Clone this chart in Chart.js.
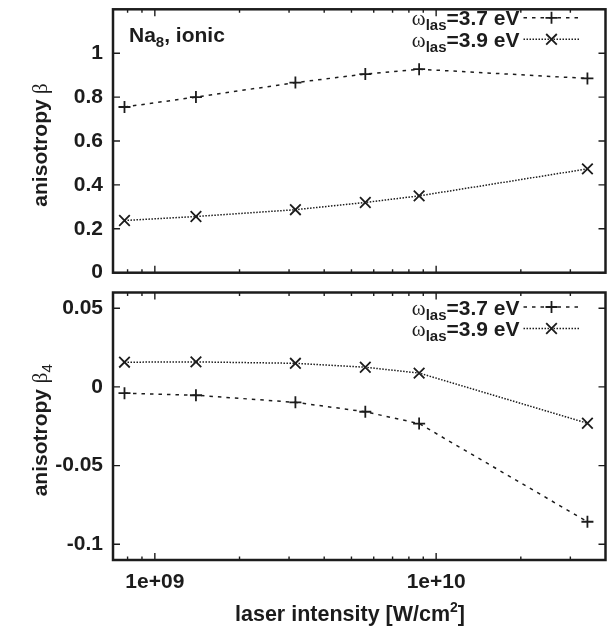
<!DOCTYPE html>
<html>
<head>
<meta charset="utf-8">
<script src="https://cdn.jsdelivr.net/npm/chart.js@4.4.1/dist/chart.umd.min.js"></script>
<style>
  html, body { margin: 0; padding: 0; background: #fff; }
  #wrap { position: relative; width: 616px; height: 634px; }
  canvas { position: absolute; left: 0; }
  #topChart { top: 0; }
  #bottomChart { top: 283px; }
</style>
</head>
<body>
<div id="wrap">
  <canvas id="topChart" width="616" height="283"></canvas>
  <canvas id="bottomChart" width="616" height="351"></canvas>
</div>
<script>
// laser intensities in W/cm^2
const intensities = [7.8e8, 1.4e9, 3.16e9, 5.6e9, 8.7e9, 3.45e10];

// anisotropy beta (top panel)
const beta37 = [0.755, 0.800, 0.866, 0.905, 0.927, 0.885];
const beta39 = [0.238, 0.256, 0.287, 0.320, 0.350, 0.473];

// anisotropy beta4 (bottom panel)
const beta4_37 = [-0.0040, -0.0053, -0.0098, -0.0158, -0.0233, -0.0857];
const beta4_39 = [0.0157, 0.0159, 0.0150, 0.0125, 0.0088, -0.0231];

const energies = ['3.7', '3.9'];
const betaTicks = [0, 0.2, 0.4, 0.6, 0.8, 1];
const beta4Ticks = [-0.1, -0.05, 0, 0.05];
const intensityTicks = [1e9, 1e10];

const ink = '#1c1c1c';
const SANS = '"Liberation Sans", Arial, Helvetica, sans-serif';
const BOLD = 'bold 21px ' + SANS;
const SUB = 'bold 15px ' + SANS;
const SYM = '21px "Liberation Serif", "DejaVu Serif", serif';

function drawRich(ctx, parts, x, y, align) {
    let w = 0;
    parts.forEach(p => { ctx.font = p.font; w += ctx.measureText(p.text).width; });
    let cx = align === 'right' ? x - w : (align === 'center' ? x - w / 2 : x);
    parts.forEach(p => {
        ctx.font = p.font;
        ctx.fillText(p.text, cx, y + (p.dy || 0));
        cx += ctx.measureText(p.text).width;
    });
}

function legendParts(energy) {
    return [
        { text: 'ω', font: SYM },
        { text: 'las', font: SUB, dy: 5 },
        { text: '=' + energy + ' eV', font: BOLD }
    ];
}

function drawMarker(ctx, style, r, x, y) {
    ctx.beginPath();
    if (style === 'cross') {
        ctx.moveTo(x - r, y); ctx.lineTo(x + r, y);
        ctx.moveTo(x, y - r); ctx.lineTo(x, y + r);
    } else {
        const d = r * Math.SQRT1_2;
        ctx.moveTo(x - d, y - d); ctx.lineTo(x + d, y + d);
        ctx.moveTo(x - d, y + d); ctx.lineTo(x + d, y - d);
    }
    ctx.stroke();
}

// frame, inward ticks, legend and labels drawn the gnuplot way
const panelDecor = {
    id: 'panelDecor',
    afterDraw(chart, args, opts) {
        const ctx = chart.ctx;
        const a = chart.chartArea;
        const xs = chart.scales.x;
        const ys = chart.scales.y;
        ctx.save();
        ctx.strokeStyle = ink;
        ctx.fillStyle = ink;

        ctx.lineWidth = 1.4;
        ctx.beginPath();
        const d0 = Math.floor(Math.log10(xs.min));
        const d1 = Math.ceil(Math.log10(xs.max));
        for (let d = d0; d <= d1; d++) {
            for (let m = 1; m < 10; m++) {
                const v = m * Math.pow(10, d);
                if (v <= xs.min || v >= xs.max) continue;
                const px = xs.getPixelForValue(v);
                const len = m === 1 ? 7 : 3.5;
                ctx.moveTo(px, a.bottom); ctx.lineTo(px, a.bottom - len);
                ctx.moveTo(px, a.top); ctx.lineTo(px, a.top + len);
            }
        }
        ys.ticks.forEach(t => {
            const py = ys.getPixelForValue(t.value);
            ctx.moveTo(a.left, py); ctx.lineTo(a.left + 7, py);
            ctx.moveTo(a.right, py); ctx.lineTo(a.right - 7, py);
        });
        ctx.stroke();

        ctx.lineWidth = 2.5;
        ctx.strokeRect(a.left, a.top, a.right - a.left, a.bottom - a.top);

        // legend
        ctx.textBaseline = 'alphabetic';
        chart.data.datasets.forEach((ds, i) => {
            const by = a.top + opts.legendRows[i];
            drawRich(ctx, legendParts(ds.energy), a.right - 86, by, 'right');
            const my = by - 7.5;
            ctx.lineWidth = ds.borderWidth;
            ctx.setLineDash(ds.borderDash);
            ctx.beginPath();
            ctx.moveTo(a.right - 82, my);
            ctx.lineTo(a.right - 25, my);
            ctx.stroke();
            ctx.setLineDash([]);
            ctx.lineWidth = ds.pointBorderWidth;
            drawMarker(ctx, ds.pointStyle, ds.pointRadius, a.right - 54, my);
        });

        // panel label
        if (opts.note) {
            drawRich(ctx, [
                { text: 'Na', font: BOLD },
                { text: '8', font: SUB, dy: 5 },
                { text: ', ionic', font: BOLD }
            ], 129, a.top + 32.5, 'left');
        }

        // y title
        ctx.save();
        ctx.translate(41, (a.top + a.bottom) / 2 + 4);
        ctx.rotate(-Math.PI / 2);
        drawRich(ctx, opts.yTitle, 0, 5.5, 'center');
        ctx.restore();

        // x title
        if (opts.xTitle) {
            const TF = 'bold 21.5px ' + SANS;
            drawRich(ctx, [
                { text: 'laser intensity [W/cm', font: TF },
                { text: '2', font: 'bold 14px ' + SANS, dy: -9 },
                { text: ']', font: TF }
            ], 350, a.bottom + 61, 'center');
        }
        ctx.restore();
    }
};

function series(energy, ys, dash, style, radius) {
    return {
        energy: energy,
        label: 'ωlas=' + energy + ' eV',
        data: intensities.map((x, i) => ({ x: x, y: ys[i] })),
        borderColor: ink,
        borderWidth: 1.5,
        borderDash: dash,
        pointStyle: style,
        pointRadius: radius,
        pointBorderWidth: 1.8,
        pointBorderColor: ink,
        pointBackgroundColor: 'transparent',
        fill: false,
        tension: 0
    };
}

function pinY(width) {
    return s => { s.width = width; s.paddingTop = 0; s.paddingBottom = 0; };
}
function pinX(height) {
    return s => { s.height = height; s.paddingLeft = 0; s.paddingRight = 0; };
}

const tickFont = { family: SANS, size: 21, weight: 'bold' };

function makeChart(id, cfg) {
    return new Chart(document.getElementById(id), {
        type: 'line',
        data: { datasets: cfg.datasets },
        options: {
            responsive: false,
            animation: false,
            layout: { padding: { top: cfg.padTop, right: 10.5, bottom: 0, left: 38 } },
            plugins: {
                legend: { display: false },
                tooltip: { enabled: false },
                panelDecor: cfg.decor
            },
            scales: {
                x: {
                    type: 'logarithmic',
                    min: 7.1e8,
                    max: 4e10,
                    grid: { display: false, drawTicks: false },
                    border: { display: false },
                    afterBuildTicks: s => { s.ticks = intensityTicks.map(v => ({ value: v })); },
                    afterFit: pinX(cfg.xHeight),
                    ticks: {
                        display: cfg.showX,
                        autoSkip: false,
                        maxRotation: 0,
                        padding: 10,
                        color: ink,
                        font: tickFont,
                        callback: v => '1e+' + String(Math.round(Math.log10(v))).padStart(2, '0')
                    }
                },
                y: {
                    min: cfg.yMin,
                    max: cfg.yMax,
                    grid: { display: false, drawTicks: false },
                    border: { display: false },
                    afterBuildTicks: s => { s.ticks = cfg.yTicks.map(v => ({ value: v })); },
                    afterFit: pinY(75),
                    ticks: {
                        padding: 10,
                        color: ink,
                        font: tickFont,
                        callback: v => String(v)
                    }
                }
            }
        },
        plugins: [panelDecor]
    });
}

makeChart('topChart', {
    datasets: [
        series(energies[0], beta37, [3.5, 5], 'cross', 6),
        series(energies[1], beta39, [1.5, 1.5], 'crossRot', 7.5)
    ],
    padTop: 4.5,
    xHeight: 10.3,
    showX: false,
    yMin: 0,
    yMax: 1.2,
    yTicks: betaTicks,
    decor: {
        legendRows: [16, 37.5],
        note: true,
        yTitle: [
            { text: 'anisotropy', font: BOLD },
            { text: ' β', font: SYM }
        ]
    }
});

makeChart('bottomChart', {
    datasets: [
        series(energies[0], beta4_37, [3.5, 5], 'cross', 6),
        series(energies[1], beta4_39, [1.5, 1.5], 'crossRot', 7.5)
    ],
    padTop: 9.5,
    xHeight: 74,
    showX: true,
    yMin: -0.11,
    yMax: 0.06,
    yTicks: beta4Ticks,
    decor: {
        legendRows: [22, 43.5],
        note: false,
        xTitle: true,
        yTitle: [
            { text: 'anisotropy ', font: BOLD },
            { text: 'β', font: SYM },
            { text: '4', font: '15px ' + SANS, dy: 5 }
        ]
    }
});
</script>
</body>
</html>
